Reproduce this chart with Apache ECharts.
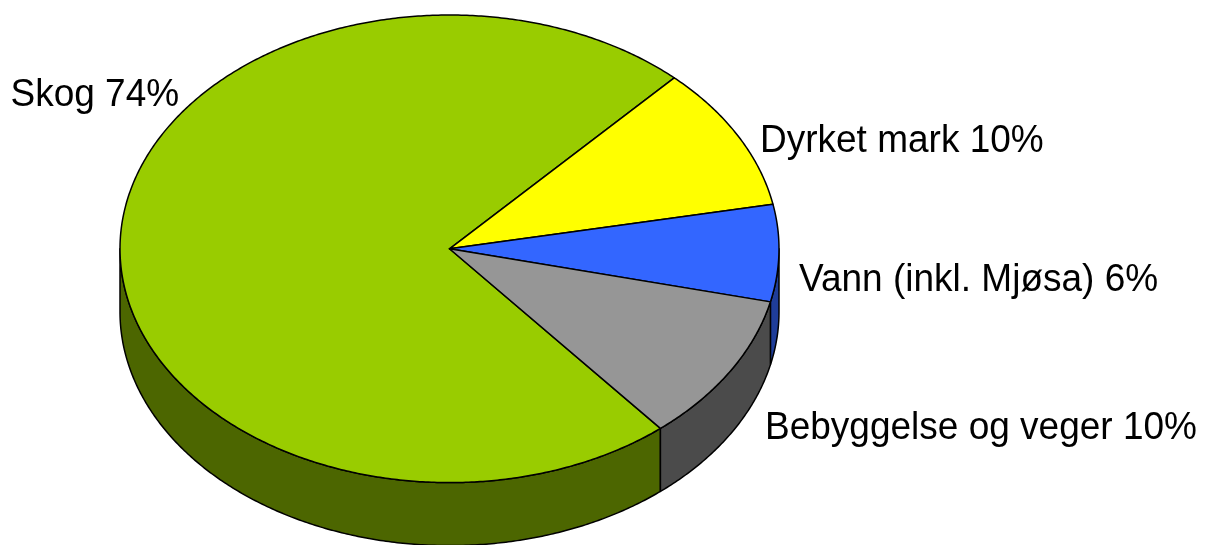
<!DOCTYPE html>
<html>
<head>
<meta charset="utf-8">
<script src="https://cdn.jsdelivr.net/npm/echarts@6/dist/echarts.min.js"></script>
<style>
html,body{margin:0;padding:0;background:#fff;}
#chart{width:1210px;height:545px;}
</style>
</head>
<body>
<div id="chart"></div>
<script>
const categories = ['Skog', 'Dyrket mark', 'Vann (inkl. Mjøsa)', 'Bebyggelse og veger'];
const values = [73.0, 10.0, 6.7, 10.3];
const labels = ['Skog 74%', 'Dyrket mark 10%', 'Vann (inkl. Mjøsa) 6%', 'Bebyggelse og veger 10%'];
const topColors = ['#99CC00', '#FFFF00', '#3366FF', '#969696'];
const sideColors = ['#4C6600', '#808000', '#1F3D99', '#4B4B4B'];

// geometry of the tilted pie (pixels)
const G = { cx: 449.5, cy: 248.8, rx: 329.5, ry: 233.8, depth: 63, start: -50.2 };
const labelPos = [[10.5, 95.5], [760, 141.3], [799, 280.5], [765, 428.5]];

const total = values.reduce((a, b) => a + b, 0);
const cum = [];
values.reduce((acc, v, i) => { cum[i] = acc; return acc + v; }, 0);

function pt(a, dy) {
  const r = a * Math.PI / 180;
  return [G.cx + G.rx * Math.cos(r), G.cy - G.ry * Math.sin(r) + (dy || 0)];
}
function arc(a0, a1, dy) { // from a0 down to a1 (clockwise, a1<a0)
  const pts = [];
  const n = Math.max(2, Math.ceil((a0 - a1) / 0.5));
  for (let k = 0; k <= n; k++) pts.push(pt(a0 - (a0 - a1) * k / n, dy));
  return pts;
}

function renderItem(params, api) {
  const i = params.dataIndex;
  const v = api.value(0);
  const a0 = G.start - cum[i] / total * 360;
  const a1 = a0 - v / total * 360;
  const children = [];
  // side walls: visible where the arc is in the front half (-180..0 mod 360)
  for (let k = 0; k < 3; k++) {
    const hi = -360 * k, lo = -180 - 360 * k;
    const s = Math.min(a0, hi), e = Math.max(a1, lo);
    if (s > e) {
      const top = arc(s, e, 0);
      const bot = arc(s, e, G.depth).reverse();
      children.push({
        type: 'polygon', z2: 1,
        shape: { points: top.concat(bot) },
        style: { fill: sideColors[i], stroke: '#000', lineWidth: 1.5, lineJoin: 'round' }
      });
    }
  }
  const topPts = [[G.cx, G.cy]].concat(arc(a0, a1, 0));
  children.push({
    type: 'polygon', z2: 5,
    shape: { points: topPts },
    style: { fill: topColors[i], stroke: '#000', lineWidth: 1.5, lineJoin: 'round' }
  });
  children.push({
    type: 'text', z2: 10,
    x: labelPos[i][0], y: labelPos[i][1], scaleY: 1.07,
    style: {
      text: labels[i], fill: '#000', fontSize: 37,
      fontFamily: '"Liberation Sans", Arial, sans-serif',
      align: 'left', verticalAlign: 'middle'
    }
  });
  return { type: 'group', children: children };
}

const chart = echarts.init(document.getElementById('chart'), null, { renderer: 'canvas' });
chart.setOption({
  animation: false,
  backgroundColor: '#fff',
  series: [{
    type: 'custom',
    coordinateSystem: 'none',
    renderItem: renderItem,
    data: values.map((v, i) => ({ name: categories[i], value: [v] }))
  }]
});
</script>
</body>
</html>
